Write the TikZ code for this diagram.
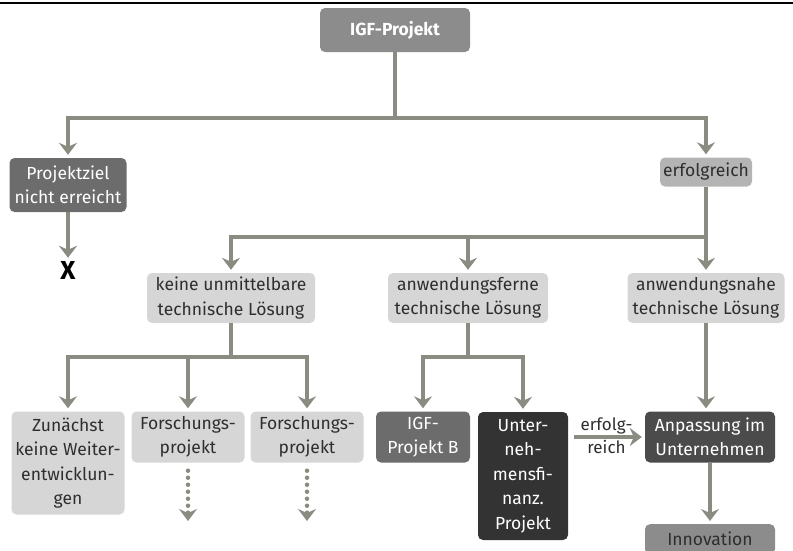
\documentclass[tikz,border=0pt]{standalone}
\usepackage{fontspec}
\setmainfont{Fira Sans}
\usetikzlibrary{positioning,arrows.meta,calc}
\definecolor{arrowgray}{HTML}{8A8C82}
\definecolor{midgray}{HTML}{8C8C8C}
\definecolor{darkgray}{HTML}{6C6C6C}
\definecolor{deepgray}{HTML}{4B4B4B}
\definecolor{blackgray}{HTML}{333333}
\definecolor{softgray}{HTML}{B4B4B4}
\definecolor{palegray}{HTML}{D6D6D6}
\definecolor{ink}{HTML}{2E2E2E}
\tikzset{
  box/.style={rounded corners=5pt, align=center, inner sep=1pt,
    font=\fontsize{17.5pt}{24.5pt}\selectfont},
  lightbox/.style={box, fill=palegray, text=ink},
  darkbox/.style={box, text=white},
  arr/.style={-{Stealth[length=12pt,width=18pt,inset=4pt]}, line width=4.5pt,
    color=arrowgray, shorten >=3pt},
  trunk/.style={line width=4.5pt, color=arrowgray},
  dotarr/.style={arr, line cap=round, dash pattern=on 0pt off 7pt},
  lbl/.style={font=\fontsize{17pt}{17pt}\selectfont, text=ink, inner sep=1pt},
}

\begin{document}
\begin{tikzpicture}[x=1pt, y=-1pt]
    \clip (0,0) rectangle (793,550);
    \useasboundingbox (0,0) rectangle (793,550);
    \draw[line width=2.5pt, black] (0,3) -- (793,3);
    % top level
    \node[darkbox, fill=midgray, minimum width=150pt, minimum height=44pt,
      font=\fontsize{17.5pt}{18pt}\selectfont\bfseries] (igf) at (395,30) {IGF-Projekt};
    \node[darkbox, fill=darkgray, minimum width=117pt, minimum height=54pt] (ziel) at (68,185)
      {Projektziel\\nicht erreicht};
    \node[box, fill=softgray, text=ink, minimum width=92pt, minimum height=29pt] (erf) at (706,172)
      {erfolgreich};
    \node[font=\fontsize{26pt}{26pt}\selectfont\bfseries, inner sep=0pt] (x) at (68,270) {X};
    \draw[trunk] (igf.south) -- (395,118);
    \draw[arr] (395,118) -| (ziel.north);
    \draw[arr] (395,118) -| (erf.north);
    \draw[arr] (ziel.south) -- (x.north);
    % second level
    \node[lightbox, minimum width=168pt, minimum height=50pt] (keine) at (231,298)
      {keine unmittelbare\\technische Lösung};
    \node[lightbox, minimum width=160pt, minimum height=50pt] (fern) at (468,298)
      {anwendungsferne\\technische Lösung};
    \node[lightbox, minimum width=157pt, minimum height=50pt] (nah) at (706,298)
      {anwendungsnahe\\technische Lösung};
    \draw[trunk] (erf.south) -- (706,237);
    \draw[arr] (706,237) -| (keine.north);
    \draw[arr] (706,237) -| (fern.north);
    \draw[arr] (erf.south) -- (nah.north);
    % third level
    \node[lightbox, minimum width=113pt, minimum height=103pt] (zun) at (68,463)
      {Zunächst\\keine Weiter-\\entwicklun-\\gen};
    \node[lightbox, minimum width=113pt, minimum height=51pt] (fp1) at (188,437)
      {Forschungs-\\projekt};
    \node[lightbox, minimum width=113pt, minimum height=51pt] (fp2) at (307,437)
      {Forschungs-\\projekt};
    \node[darkbox, fill=darkgray, minimum width=94pt, minimum height=51pt] (igfb) at (423,437)
      {IGF-\\Projekt B};
    \node[darkbox, fill=blackgray, minimum width=90pt, minimum height=128pt] (unt) at (523,476)
      {Unter-\\neh-\\mensfi-\\nanz.\\Projekt};
    \node[darkbox, fill=deepgray, minimum width=130pt, minimum height=51pt] (anp) at (710,437)
      {Anpassung im\\Unternehmen};
    \node[box, fill=midgray, text=ink, minimum width=130pt, minimum height=30pt, anchor=north] (inno) at (710,524)
      {Innovation};
    \draw[trunk] (keine.south) -- (231,357);
    \draw[arr] (231,357) -| (zun.north);
    \draw[arr] (231,357) -| (fp1.north);
    \draw[arr] (231,357) -| (fp2.north);
    \draw[trunk] (fern.south) -- (468,357);
    \draw[arr] (468,357) -| (igfb.north);
    \draw[arr] (468,357) -| (unt.north);
    \draw[arr] (nah.south) -- (nah.south |- anp.north);
    \draw[arr] (anp.south |- 0,463) -- (anp.south |- inno.north);
    \coordinate (fp1end) at (188,524);
    \coordinate (fp2end) at (307,524);
    \draw[dotarr] ($(fp1.south)+(0,8)$) -- (fp1end);
    \draw[dotarr] ($(fp2.south)+(0,8)$) -- (fp2end);
    \draw[arr, shorten <=6pt] (unt.east |- anp.west) -- node[lbl, above=0pt]{erfolg-}
      node[lbl, below=0pt]{reich} (anp.west);
  \end{tikzpicture}
\end{document}
